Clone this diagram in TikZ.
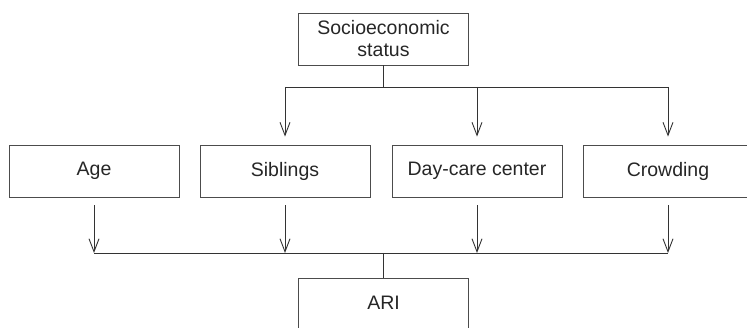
\documentclass[tikz,border=0pt]{standalone}
\usepackage{fontspec}
\setmainfont{Liberation Sans}
\usetikzlibrary{arrows.meta}
\begin{document}
\begin{tikzpicture}[x=1pt,y=-1pt,
  box/.style={draw=black!70,line width=0.9pt,minimum width=170pt,minimum height=52pt,inner sep=0pt,
    align=center,font=\fontsize{19.5}{22}\selectfont,text=black!85},
  conn/.style={draw=black!80,line width=0.9pt},
  arr/.style={conn,-{Straight Barb[length=13pt,width=10pt,line width=0.9pt]}}]
\useasboundingbox (0,0) rectangle (747,328);
\clip (0,0) rectangle (747,328);
\node[box] (ses) at (383.5,39) {Socioeconomic\\status};
\node[box] (age) at (94,171) {Age};
\node[box] (sib) at (285,171) {Siblings};
\node[box] (day) at (477,171) {Day-care center};
\node[box] (crowd) at (668,171) {Crowding};
\node[box,minimum height=64pt,anchor=north] (ari) at (383.5,278) {\raisebox{16pt}{ARI}};
\coordinate (tbus) at (383.5,87);
\coordinate (bbus) at (383.5,253);
% top distribution
\draw[conn] (ses.south) -- (tbus);
\draw[conn] (sib.north |- tbus) -- (crowd.north |- tbus);
\foreach \n in {sib,day,crowd}{
  \draw[arr] (\n.north |- tbus) -- ([yshift=8pt]\n.north);
}
% bottom collection
\foreach \n in {age,sib,day,crowd}{
  \draw[arr] ([yshift=-8pt]\n.south) -- (\n.south |- bbus);
}
\draw[conn] (age.south |- bbus) -- (crowd.south |- bbus);
\draw[conn] (bbus) -- (ari.north);
\end{tikzpicture}
\end{document}
